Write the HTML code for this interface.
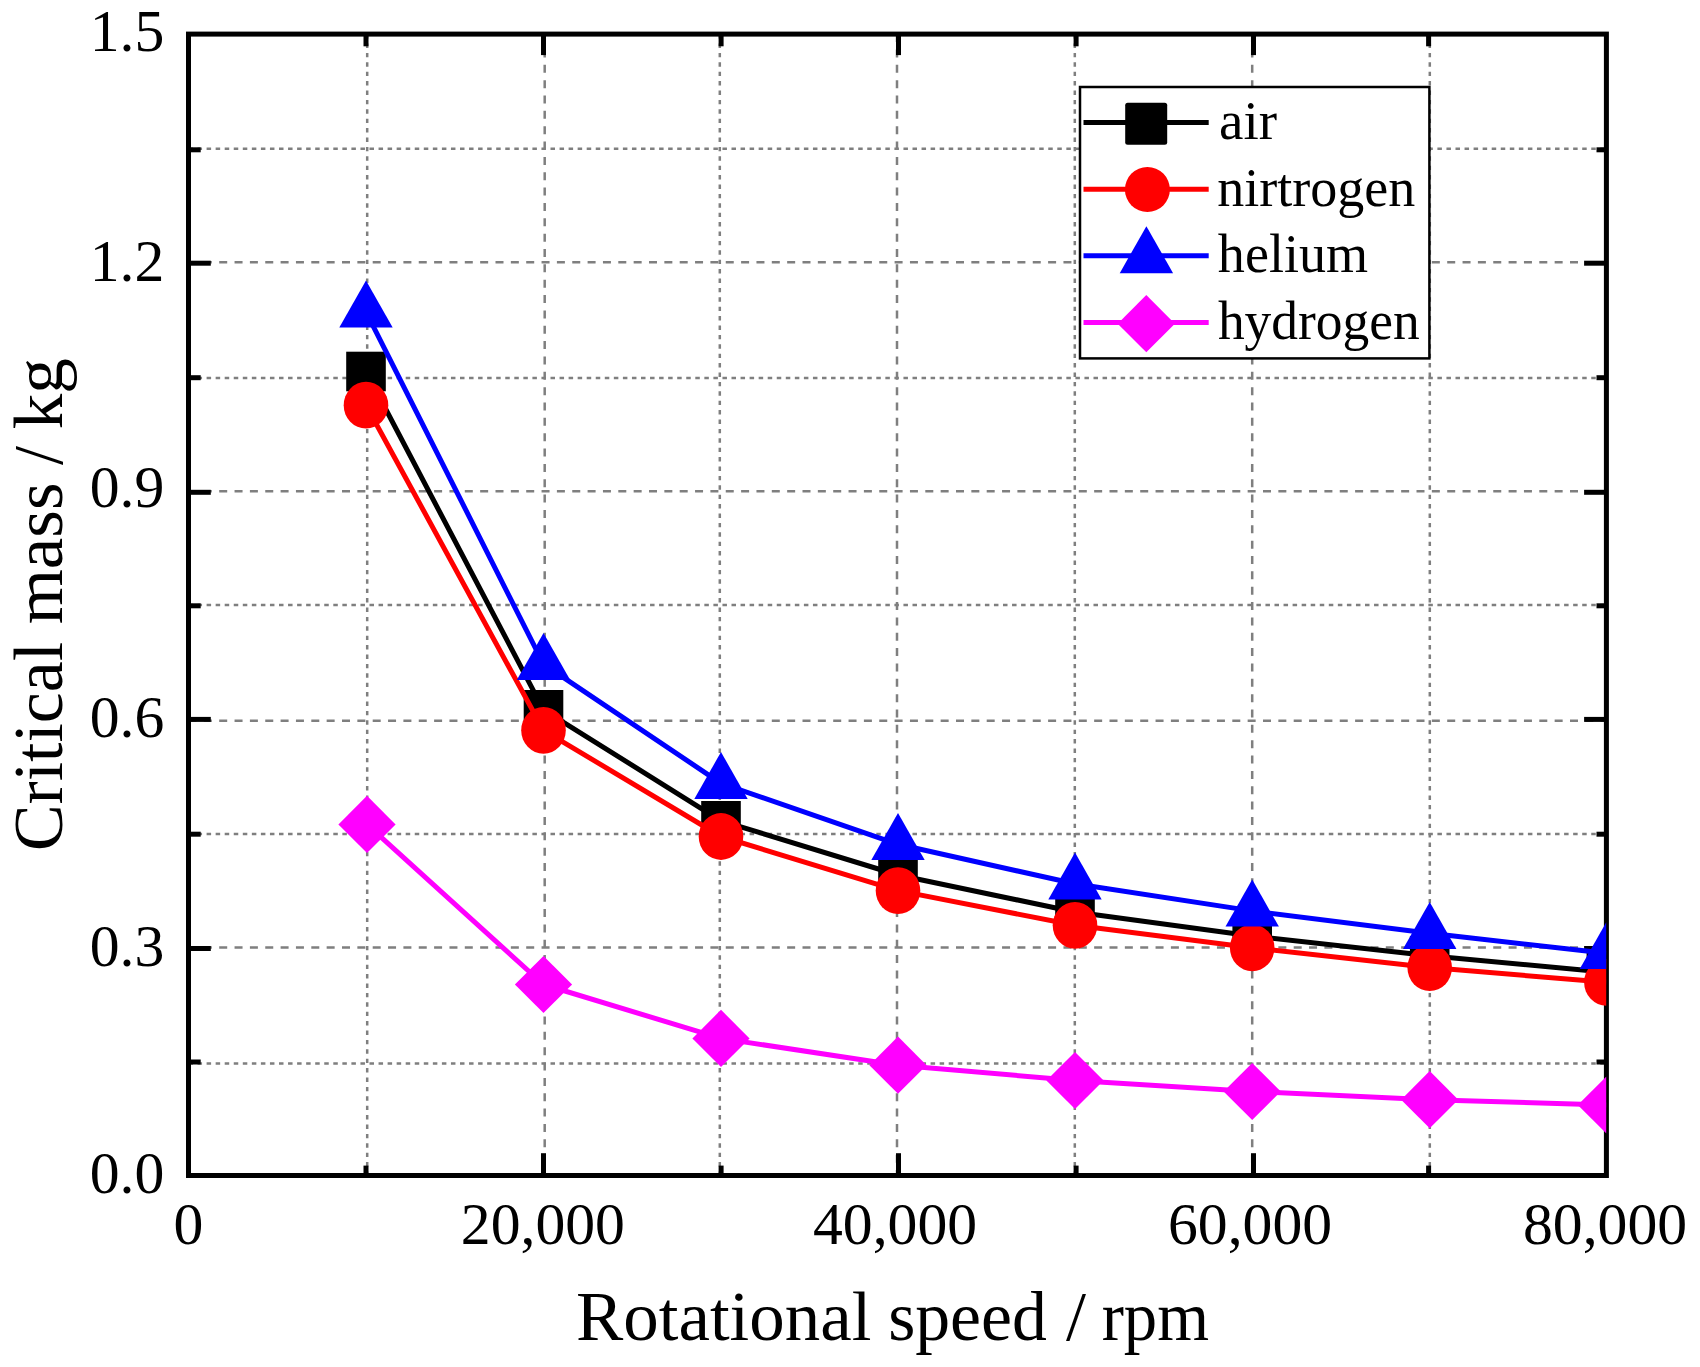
<!DOCTYPE html>
<html lang="en"><head><meta charset="utf-8"><title>Critical mass vs rotational speed</title>
<style>html,body{margin:0;padding:0;background:#fff;}svg{display:block;}text{font-family:"Liberation Serif","Times New Roman",serif;fill:#000;}</style></head><body>
<svg width="1700" height="1367" viewBox="0 0 1700 1367">
<rect x="0" y="0" width="1700" height="1367" fill="#ffffff"/>
<defs><clipPath id="plotclip"><rect x="188.5" y="34.1" width="1417.7" height="1141.4"/></clipPath></defs>
<g stroke="#7f7f7f" stroke-width="2.5" fill="none">
<line x1="188.5" y1="947.6" x2="1606.4" y2="947.6" stroke-dasharray="8 7.35"/>
<line x1="188.5" y1="720.7" x2="1606.4" y2="720.7" stroke-dasharray="8 7.35"/>
<line x1="188.5" y1="491.3" x2="1606.4" y2="491.3" stroke-dasharray="8 7.35"/>
<line x1="188.5" y1="262.2" x2="1606.4" y2="262.2" stroke-dasharray="8 7.35"/>
<line x1="188.5" y1="1063.5" x2="1606.4" y2="1063.5" stroke-dasharray="4.5 4.55"/>
<line x1="188.5" y1="834.0" x2="1606.4" y2="834.0" stroke-dasharray="4.5 4.55"/>
<line x1="188.5" y1="604.9" x2="1606.4" y2="604.9" stroke-dasharray="4.5 4.55"/>
<line x1="188.5" y1="378.1" x2="1606.4" y2="378.1" stroke-dasharray="4.5 4.55"/>
<line x1="188.5" y1="148.7" x2="1606.4" y2="148.7" stroke-dasharray="4.5 4.55"/>
<line x1="544.7" y1="34.1" x2="544.7" y2="1175.5" stroke-dasharray="8 7.35"/>
<line x1="897.0" y1="34.1" x2="897.0" y2="1175.5" stroke-dasharray="8 7.35"/>
<line x1="1252.2" y1="34.1" x2="1252.2" y2="1175.5" stroke-dasharray="8 7.35"/>
<line x1="367.2" y1="34.1" x2="367.2" y2="1175.5" stroke-dasharray="4.4 5"/>
<line x1="719.8" y1="34.1" x2="719.8" y2="1175.5" stroke-dasharray="4.4 5"/>
<line x1="1074.8" y1="34.1" x2="1074.8" y2="1175.5" stroke-dasharray="4.4 5"/>
<line x1="1429.8" y1="34.1" x2="1429.8" y2="1175.5" stroke-dasharray="4.4 5"/>
</g>
<g stroke="#000" stroke-width="5" fill="none" stroke-linecap="butt">
<rect x="188.5" y="34.1" width="1417.9" height="1141.4"/>
<line x1="188.5" y1="948.5" x2="210.8" y2="948.5"/>
<line x1="1606.4" y1="948.5" x2="1584.1000000000001" y2="948.5"/>
<line x1="188.5" y1="719.4" x2="210.8" y2="719.4"/>
<line x1="1606.4" y1="719.4" x2="1584.1000000000001" y2="719.4"/>
<line x1="188.5" y1="492.3" x2="210.8" y2="492.3"/>
<line x1="1606.4" y1="492.3" x2="1584.1000000000001" y2="492.3"/>
<line x1="188.5" y1="263.2" x2="210.8" y2="263.2"/>
<line x1="1606.4" y1="263.2" x2="1584.1000000000001" y2="263.2"/>
<line x1="188.5" y1="1062.0" x2="200.7" y2="1062.0"/>
<line x1="1606.4" y1="1062.0" x2="1596.5" y2="1062.0"/>
<line x1="188.5" y1="834.2" x2="200.7" y2="834.2"/>
<line x1="1606.4" y1="834.2" x2="1596.5" y2="834.2"/>
<line x1="188.5" y1="605.8" x2="200.7" y2="605.8"/>
<line x1="1606.4" y1="605.8" x2="1596.5" y2="605.8"/>
<line x1="188.5" y1="377.7" x2="200.7" y2="377.7"/>
<line x1="1606.4" y1="377.7" x2="1596.5" y2="377.7"/>
<line x1="188.5" y1="149.8" x2="200.7" y2="149.8"/>
<line x1="1606.4" y1="149.8" x2="1596.5" y2="149.8"/>
<line x1="543.5" y1="1175.5" x2="543.5" y2="1153.2"/>
<line x1="543.5" y1="34.1" x2="543.5" y2="55.1"/>
<line x1="898.5" y1="1175.5" x2="898.5" y2="1153.2"/>
<line x1="898.5" y1="34.1" x2="898.5" y2="55.1"/>
<line x1="1253.5" y1="1175.5" x2="1253.5" y2="1153.2"/>
<line x1="1253.5" y1="34.1" x2="1253.5" y2="55.1"/>
<line x1="366.0" y1="1175.5" x2="366.0" y2="1165.6"/>
<line x1="366.0" y1="34.1" x2="366.0" y2="46.3"/>
<line x1="721.1" y1="1175.5" x2="721.1" y2="1165.6"/>
<line x1="721.1" y1="34.1" x2="721.1" y2="46.3"/>
<line x1="1076.1" y1="1175.5" x2="1076.1" y2="1165.6"/>
<line x1="1076.1" y1="34.1" x2="1076.1" y2="46.3"/>
<line x1="1428.6" y1="1175.5" x2="1428.6" y2="1165.6"/>
<line x1="1428.6" y1="34.1" x2="1428.6" y2="46.3"/>
</g>
<g clip-path="url(#plotclip)">
<polyline points="366.0,371.5 543.5,709.8 721.0,820.8 898.0,875.0 1075.0,912.0 1252.2,936.0 1429.7,955.8 1606.4,972.3" fill="none" stroke="#000000" stroke-width="5.0" stroke-linejoin="round"/>
<rect x="346.2" y="351.7" width="39.6" height="39.6" fill="#000000"/>
<rect x="523.7" y="690.0" width="39.6" height="39.6" fill="#000000"/>
<rect x="701.2" y="801.0" width="39.6" height="39.6" fill="#000000"/>
<rect x="878.2" y="855.2" width="39.6" height="39.6" fill="#000000"/>
<rect x="1055.2" y="892.2" width="39.6" height="39.6" fill="#000000"/>
<rect x="1232.4" y="916.2" width="39.6" height="39.6" fill="#000000"/>
<rect x="1409.9" y="936.0" width="39.6" height="39.6" fill="#000000"/>
<rect x="1586.6" y="952.5" width="39.6" height="39.6" fill="#000000"/>
<polyline points="366.0,405.2 543.5,730.3 721.0,836.5 898.0,890.6 1075.0,925.3 1252.2,947.8 1429.7,967.6 1606.4,982.3" fill="none" stroke="#ff0000" stroke-width="5.0" stroke-linejoin="round"/>
<ellipse cx="366.0" cy="405.2" rx="22.3" ry="23.4" fill="#ff0000"/>
<ellipse cx="543.5" cy="730.3" rx="22.3" ry="23.4" fill="#ff0000"/>
<ellipse cx="721.0" cy="836.5" rx="22.3" ry="23.4" fill="#ff0000"/>
<ellipse cx="898.0" cy="890.6" rx="22.3" ry="23.4" fill="#ff0000"/>
<ellipse cx="1075.0" cy="925.3" rx="22.3" ry="23.4" fill="#ff0000"/>
<ellipse cx="1252.2" cy="947.8" rx="22.3" ry="23.4" fill="#ff0000"/>
<ellipse cx="1429.7" cy="967.6" rx="22.3" ry="23.4" fill="#ff0000"/>
<ellipse cx="1606.4" cy="982.3" rx="22.3" ry="23.4" fill="#ff0000"/>
<polyline points="366.0,311.8 543.5,664.2 721.0,783.3 898.0,844.3 1075.0,883.8 1252.2,910.9 1429.7,933.3 1606.4,953.3" fill="none" stroke="#0000ff" stroke-width="5.0" stroke-linejoin="round"/>
<polygon points="366.0,280.5 339.3,327.5 392.7,327.5" fill="#0000ff"/>
<polygon points="543.5,632.9 516.8,679.9 570.2,679.9" fill="#0000ff"/>
<polygon points="721.0,752.0 694.3,799.0 747.7,799.0" fill="#0000ff"/>
<polygon points="898.0,813.0 871.3,860.0 924.7,860.0" fill="#0000ff"/>
<polygon points="1075.0,852.5 1048.3,899.5 1101.7,899.5" fill="#0000ff"/>
<polygon points="1252.2,879.6 1225.5,926.6 1278.9,926.6" fill="#0000ff"/>
<polygon points="1429.7,902.0 1403.0,949.0 1456.4,949.0" fill="#0000ff"/>
<polygon points="1606.4,922.0 1579.7,969.0 1633.1,969.0" fill="#0000ff"/>
<polyline points="367.0,824.4 543.5,984.5 721.0,1038.4 898.0,1065.2 1075.0,1080.5 1252.2,1091.5 1429.7,1099.7 1606.4,1105.0" fill="none" stroke="#ff00ff" stroke-width="5.0" stroke-linejoin="round"/>
<polygon points="367.0,795.8 395.6,824.4 367.0,853.0 338.4,824.4" fill="#ff00ff"/>
<polygon points="543.5,955.9 572.1,984.5 543.5,1013.1 514.9,984.5" fill="#ff00ff"/>
<polygon points="721.0,1009.8 749.6,1038.4 721.0,1067.0 692.4,1038.4" fill="#ff00ff"/>
<polygon points="898.0,1036.6 926.6,1065.2 898.0,1093.8 869.4,1065.2" fill="#ff00ff"/>
<polygon points="1075.0,1051.9 1103.6,1080.5 1075.0,1109.1 1046.4,1080.5" fill="#ff00ff"/>
<polygon points="1252.2,1062.9 1280.8,1091.5 1252.2,1120.1 1223.6,1091.5" fill="#ff00ff"/>
<polygon points="1429.7,1071.1 1458.3,1099.7 1429.7,1128.3 1401.1,1099.7" fill="#ff00ff"/>
<polygon points="1606.4,1076.4 1635.0,1105.0 1606.4,1133.6 1577.8,1105.0" fill="#ff00ff"/>
</g>
<rect x="1080.0" y="87.0" width="349.4" height="271.4" fill="#fff" stroke="#000" stroke-width="2.5"/>
<line x1="1083.5" y1="122.5" x2="1208.7" y2="122.5" stroke="#000000" stroke-width="5.0"/>
<rect x="1125.2" y="102.8" width="42" height="42" rx="2.5" fill="#000000"/>
<text x="1219.07" y="139.40" font-size="55.5" textLength="58.02" lengthAdjust="spacingAndGlyphs">air</text>
<line x1="1083.5" y1="189.3" x2="1208.7" y2="189.3" stroke="#ff0000" stroke-width="5.0"/>
<circle cx="1147.4" cy="189.5" r="22.5" fill="#ff0000"/>
<text x="1217.16" y="205.60" font-size="55.5" textLength="198.16" lengthAdjust="spacingAndGlyphs">nirtrogen</text>
<line x1="1083.5" y1="255.8" x2="1208.7" y2="255.8" stroke="#0000ff" stroke-width="5.0"/>
<polygon points="1146.4,226.2 1119.7,273.2 1173.1,273.2" fill="#0000ff"/>
<text x="1217.87" y="272.30" font-size="55.5" textLength="150.17" lengthAdjust="spacingAndGlyphs">helium</text>
<line x1="1083.5" y1="322.4" x2="1208.7" y2="322.4" stroke="#ff00ff" stroke-width="5.0"/>
<polygon points="1146.3,295.1 1174.9,323.7 1146.3,352.3 1117.7,323.7" fill="#ff00ff"/>
<text x="1217.88" y="338.90" font-size="55.5" textLength="201.93" lengthAdjust="spacingAndGlyphs">hydrogen</text>
<text x="89.7" y="51.1" font-size="59.7">1.5</text>
<text x="89.7" y="280.6" font-size="59.7">1.2</text>
<text x="89.7" y="507.1" font-size="59.7">0.9</text>
<text x="89.7" y="736.8" font-size="59.7">0.6</text>
<text x="89.7" y="965.9" font-size="59.7">0.3</text>
<text x="89.7" y="1192.6" font-size="59.7">0.0</text>
<text x="173.6" y="1244.2" font-size="59.7">0</text>
<text x="460.8" y="1244.2" font-size="59.7">20,000</text>
<text x="813.0" y="1244.2" font-size="59.7">40,000</text>
<text x="1168.0" y="1244.2" font-size="59.7">60,000</text>
<text x="1523.0" y="1244.2" font-size="59.7">80,000</text>
<text y="1340" font-size="70"><tspan x="575.96" textLength="295.46" lengthAdjust="spacingAndGlyphs">Rotational</tspan> <tspan x="888.14" textLength="158.71" lengthAdjust="spacingAndGlyphs">speed</tspan> <tspan x="1066.00" textLength="20.00" lengthAdjust="spacingAndGlyphs">/</tspan> <tspan x="1101.67" textLength="107.38" lengthAdjust="spacingAndGlyphs">rpm</tspan></text>
<text transform="translate(62.4,848.1) rotate(-90)" y="0" font-size="70"><tspan x="-2.86" textLength="209.05" lengthAdjust="spacingAndGlyphs">Critical</tspan> <tspan x="223.81" textLength="141.85" lengthAdjust="spacingAndGlyphs">mass</tspan> <tspan x="383.10" textLength="19.00" lengthAdjust="spacingAndGlyphs">/</tspan> <tspan x="418.74" textLength="71.21" lengthAdjust="spacingAndGlyphs">kg</tspan></text>
</svg></body></html>
